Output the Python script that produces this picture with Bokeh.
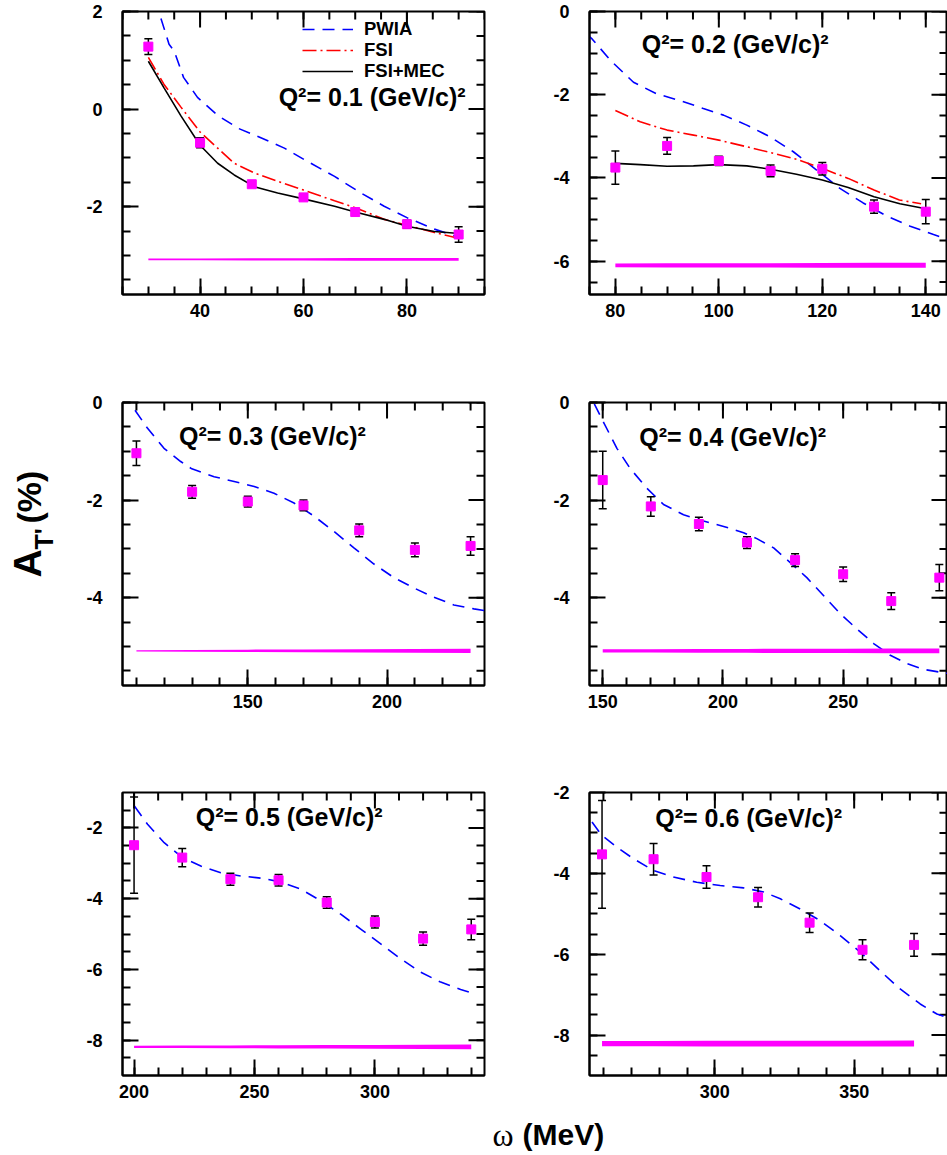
import math
from bokeh.plotting import figure
from bokeh.models import (Range1d, FixedTicker, ColumnDataSource, Whisker,
                          TeeHead, Legend, LegendItem, Label)
from bokeh.layouts import row, column
from bokeh.embed import file_html
from bokeh.resources import INLINE
from bokeh.core.properties import value

FONT = "Liberation Sans"
MAG = "#ff00ff"

# ---------------- data ----------------
# Q^2 = 0.1
p1_w = [30, 40, 50, 60, 70, 80, 90]
p1_a = [1.28, -0.69, -1.54, -1.81, -2.11, -2.36, -2.57]
p1_err = [0.16, 0.10, 0.06, 0.06, 0.07, 0.08, 0.16]
p1_band_base = -3.08
p1_band_half = [0.02, 0.02, 0.025, 0.025, 0.03, 0.03, 0.03]
p1_pwia_w = [31.3, 32.4, 34.0, 35.0, 36.8, 39.5, 43.4, 47.5, 50.5, 56.3, 60.2, 66.0, 71.1, 75.6, 80.1, 85.3, 90.1]
p1_pwia_a = [2.25, 1.87, 1.33, 1.19, 0.65, 0.24, -0.13, -0.40, -0.53, -0.80, -1.04, -1.38, -1.72, -1.99, -2.23, -2.46, -2.63]
p1_fsi_w = [30, 33, 36.3, 40, 43.4, 46.6, 50.5, 55, 60, 66, 70, 75.6, 80, 85.3, 90.1]
p1_fsi_a = [1.06, 0.51, 0.04, -0.47, -0.80, -1.11, -1.31, -1.48, -1.66, -1.88, -2.02, -2.26, -2.38, -2.53, -2.65]
p1_mec_w = [30, 33, 36.3, 40, 43.4, 46.6, 50.5, 55, 60, 66, 70, 75.6, 80, 85.3, 90.1]
p1_mec_a = [0.98, 0.44, -0.14, -0.74, -1.11, -1.35, -1.59, -1.72, -1.84, -1.99, -2.11, -2.26, -2.40, -2.51, -2.55]

# Q^2 = 0.2
p2_w = [80, 90, 100, 110, 120, 130, 140]
p2_a = [-3.75, -3.23, -3.59, -3.83, -3.78, -4.69, -4.81]
p2_err = [0.40, 0.20, 0.11, 0.14, 0.15, 0.16, 0.29]
p2_band_base = -6.10
p2_band_half = [0.045, 0.05, 0.05, 0.05, 0.055, 0.06, 0.06]
p2_pwia_w = [74.5, 75.5, 79.1, 83.5, 88.0, 92.5, 97.0, 100.9, 105.4, 109.9, 114.4, 118.9, 123.4, 127.9, 132.5, 137.0, 141.5, 145.0]
p2_pwia_a = [-0.55, -0.66, -1.18, -1.70, -1.98, -2.14, -2.33, -2.49, -2.73, -3.01, -3.37, -3.81, -4.25, -4.60, -4.92, -5.16, -5.36, -5.50]
p2_fsi_w = [80, 84.8, 90, 95.1, 100, 105.4, 110, 115, 120, 125, 130, 134.9, 139.1]
p2_fsi_a = [-2.38, -2.65, -2.85, -2.97, -3.09, -3.25, -3.39, -3.55, -3.77, -4.01, -4.29, -4.53, -4.62]
p2_mec_w = [80, 84.8, 90, 95.1, 100, 105.4, 110, 115, 120, 125, 130, 135, 140]
p2_mec_a = [-3.65, -3.68, -3.72, -3.71, -3.68, -3.71, -3.79, -3.91, -4.05, -4.23, -4.45, -4.62, -4.74]

# Q^2 = 0.3
p3_w = [110, 130, 150, 170, 190, 210, 230]
p3_a = [-1.04, -1.83, -2.03, -2.11, -2.62, -3.02, -2.94]
p3_err = [0.25, 0.13, 0.11, 0.11, 0.13, 0.14, 0.19]
p3_band_base = -5.09
p3_band_half = [0.013, 0.02, 0.025, 0.03, 0.035, 0.04, 0.045]
p3_pwia_w = [109.5, 114, 119.9, 125.9, 129.9, 137.9, 145.1, 152.3, 159.4, 166.6, 173.8, 180.9, 188.1, 195.3, 202.5, 209.6, 216.8, 224, 231.2, 235.5]
p3_pwia_a = [-0.16, -0.53, -0.94, -1.21, -1.36, -1.52, -1.62, -1.72, -1.86, -2.06, -2.33, -2.64, -2.98, -3.31, -3.59, -3.80, -3.99, -4.15, -4.23, -4.27]

# Q^2 = 0.4
p4_w = [150, 170, 190, 210, 230, 250, 270, 290]
p4_a = [-1.59, -2.13, -2.49, -2.87, -3.23, -3.52, -4.07, -3.59]
p4_err = [0.59, 0.20, 0.14, 0.12, 0.13, 0.15, 0.17, 0.27]
p4_band_base = -5.09
p4_band_half = [0.035, 0.035, 0.04, 0.04, 0.045, 0.045, 0.05, 0.05]
p4_pwia_w = [146.5, 150.3, 155.9, 161.4, 168.4, 175.3, 183.6, 191.9, 200.3, 208.6, 214.1, 221.1, 228, 234.9, 241.9, 248.8, 255.7, 262.7, 269.6, 276.5, 283.4, 293.3, 296]
p4_pwia_a = [-0.03, -0.40, -0.94, -1.35, -1.76, -2.09, -2.30, -2.43, -2.54, -2.67, -2.79, -2.98, -3.28, -3.59, -3.96, -4.33, -4.64, -4.94, -5.18, -5.35, -5.47, -5.55, -5.57]

# Q^2 = 0.5
p5_w = [200, 220, 240, 260, 280, 300, 320, 340]
p5_a = [-2.49, -2.84, -3.45, -3.48, -4.11, -4.66, -5.13, -4.87]
p5_err = [1.36, 0.26, 0.17, 0.16, 0.16, 0.17, 0.19, 0.29]
p5_band_base = -8.19
p5_band_half = [0.03, 0.035, 0.04, 0.045, 0.05, 0.055, 0.06, 0.065]
p5_pwia_w = [200.2, 205.6, 212.5, 220.1, 227.7, 236, 244.3, 252.6, 260.2, 269.2, 277.5, 285.8, 294.1, 302.4, 310.7, 319, 327.3, 335.6, 340.4]
p5_pwia_a = [-1.39, -1.90, -2.42, -2.84, -3.08, -3.27, -3.36, -3.42, -3.52, -3.73, -4.06, -4.44, -4.86, -5.28, -5.70, -6.08, -6.36, -6.57, -6.67]

# Q^2 = 0.6
p6_w = [259.5, 278, 297, 315.5, 334, 353, 371.5]
p6_a = [-3.53, -3.65, -4.09, -4.59, -5.22, -5.89, -5.77]
p6_err = [1.33, 0.39, 0.28, 0.24, 0.24, 0.25, 0.28]
p6_band_base = -8.21
p6_band_half = [0.065, 0.065, 0.07, 0.07, 0.07, 0.07, 0.075]
p6_pwia_w = [255.9, 259.4, 264.8, 270.8, 278, 285.1, 293.5, 301.9, 310.3, 317.5, 323.5, 330.6, 337.8, 345, 352.2, 359.3, 366.5, 373.7, 379.7, 384]
p6_pwia_a = [-2.73, -3.06, -3.35, -3.64, -3.93, -4.09, -4.22, -4.30, -4.36, -4.46, -4.63, -4.88, -5.17, -5.54, -5.95, -6.41, -6.86, -7.23, -7.48, -7.58]

# tick values / labels
p1_xticks, p1_xlabels = [40, 60, 80], ["40", "60", "80"]
p1_yticks, p1_ylabels = [-2, 0, 2], ["-2", "0", "2"]
p2_xticks, p2_xlabels = [80, 100, 120, 140], ["80", "100", "120", "140"]
p2_yticks, p2_ylabels = [-6, -4, -2, 0], ["-6", "-4", "-2", "0"]
p3_xticks, p3_xlabels = [150, 200], ["150", "200"]
p3_yticks, p3_ylabels = [-4, -2, 0], ["-4", "-2", "0"]
p4_xticks, p4_xlabels = [150, 200, 250], ["150", "200", "250"]
p4_yticks, p4_ylabels = [-4, -2, 0], ["-4", "-2", "0"]
p5_xticks, p5_xlabels = [200, 250, 300], ["200", "250", "300"]
p5_yticks, p5_ylabels = [-8, -6, -4, -2], ["-8", "-6", "-4", "-2"]
p6_xticks, p6_xlabels = [300, 350], ["300", "350"]
p6_yticks, p6_ylabels = [-8, -6, -4, -2], ["-8", "-6", "-4", "-2"]

q2_titles = ["Q²= 0.1 (GeV/c)²", "Q²= 0.2 (GeV/c)²", "Q²= 0.3 (GeV/c)²",
             "Q²= 0.4 (GeV/c)²", "Q²= 0.5 (GeV/c)²", "Q²= 0.6 (GeV/c)²"]
legend_labels = ["PWIA", "FSI", "FSI+MEC"]
y_title = ["A", "T'", "(%)"]
x_title = ["ω", "(MeV)"]


def steps(a, b, s):
    n = int(round((b - a) / s))
    return [round(a + i * s, 6) for i in range(n + 1)]


def style_axis(ax, major, minor, labels, standoff):
    ax.ticker = FixedTicker(ticks=major, minor_ticks=minor)
    ax.axis_line_width = 2
    ax.axis_line_color = "black"
    ax.major_tick_in = 16
    ax.major_tick_out = 0
    ax.minor_tick_in = 8
    ax.minor_tick_out = 0
    ax.major_tick_line_width = 2
    ax.minor_tick_line_width = 2
    ax.major_label_text_font = FONT
    ax.major_label_text_font_style = "bold"
    ax.major_label_text_color = "black"
    ax.major_label_text_font_size = "18px"
    ax.major_label_standoff = standoff
    ax.major_label_overrides = {float(t): l for t, l in zip(major, labels)}


def make_panel(xr, yr, xt, xl, xminor, yt, yl, yminor, width, height, bl, br, bt, bb):
    p = figure(width=width, height=height, x_range=Range1d(*xr), y_range=Range1d(*yr),
               output_backend="svg", toolbar_location=None,
               min_border_left=bl, min_border_right=br, min_border_top=bt, min_border_bottom=bb)
    p.grid.visible = False
    p.outline_line_color = "black"
    p.outline_line_width = 2
    style_axis(p.below[0], xt, xminor, xl, 9)
    style_axis(p.left[0], yt, yminor, yl, 20)
    # inward ticks on the top and right frame edges (mirror of the bottom/left axes);
    # dash markers centred on the edge are clipped by the frame, leaving the inner half
    tk = dict(marker="dash", line_color="black", line_width=2)
    p.scatter(x=xt, y=[yr[1]] * len(xt), size=32, angle=math.pi / 2, **tk)
    p.scatter(x=xminor, y=[yr[1]] * len(xminor), size=16, angle=math.pi / 2, **tk)
    p.scatter(x=[xr[1]] * len(yt), y=yt, size=32, angle=0, **tk)
    p.scatter(x=[xr[1]] * len(yminor), y=yminor, size=16, angle=0, **tk)
    return p


def add_data(p, w, a, err, band_base, band_half):
    lo = [band_base - h for h in band_half]
    hi = [band_base + h for h in band_half]
    p.varea(x=w, y1=lo, y2=hi, fill_color=MAG)
    src = ColumnDataSource(dict(x=w, lo=[v - e for v, e in zip(a, err)], hi=[v + e for v, e in zip(a, err)]))
    wh = Whisker(source=src, base="x", lower="lo", upper="hi", line_color="black", line_width=1.5,
                 upper_head=TeeHead(size=8, line_color="black", line_width=1.5),
                 lower_head=TeeHead(size=8, line_color="black", line_width=1.5))
    wh.level = "glyph"
    p.add_layout(wh)
    p.scatter(w, a, marker="square", size=9, fill_color=MAG, line_color=MAG, level="overlay")


def add_title(p, x, y, text):
    p.add_layout(Label(x=x, y=y, text=text, text_font=FONT, text_font_style="bold",
                       text_font_size="25px", text_baseline="middle", text_align="left",
                       text_color="black"))


PWIA_STYLE = dict(line_color="#0000ff", line_width=1.6, line_dash="12 8")
FSI_STYLE = dict(line_color="#ff0000", line_width=1.6, line_dash="14 4 2 4")
MEC_STYLE = dict(line_color="black", line_width=1.6)

# layout geometry (pixels)
LW, RW = 434, 453
H1, H2, H3, HX = 350, 385, 375, 45

# ---- panel 1
f1 = make_panel((25, 95), (-3.8, 2.0), p1_xticks, p1_xlabels, steps(25, 95, 5),
                p1_yticks, p1_ylabels, steps(-3.5, 2.0, 0.5), LW, H1, 62, 10, 11, 56)
r_pw = f1.line(p1_pwia_w, p1_pwia_a, **PWIA_STYLE)
r_fs = f1.line(p1_fsi_w, p1_fsi_a, **FSI_STYLE)
r_me = f1.line(p1_mec_w, p1_mec_a, **MEC_STYLE)
add_data(f1, p1_w, p1_a, p1_err, p1_band_base, p1_band_half)
add_title(f1, 55.2, 0.24, q2_titles[0])
# legend: one entry per Legend so that the rows can sit close together
for lab, rend, vy in zip(legend_labels, [r_pw, r_fs, r_me], [254, 233, 212]):
    f1.add_layout(Legend(items=[LegendItem(label=lab, renderers=[rend])],
                         location=(180, vy), orientation="vertical", padding=0, margin=0,
                         glyph_width=51, glyph_height=16, label_standoff=11, label_height=16,
                         label_text_font=FONT, label_text_font_style="bold", label_text_font_size="18.5px",
                         label_text_color="black",
                         background_fill_alpha=0, border_line_alpha=0))

# ---- panel 2
f2 = make_panel((75, 144.2), (-6.8, 0), p2_xticks, p2_xlabels, steps(75, 145, 5),
                p2_yticks, p2_ylabels, steps(-6.5, 0, 0.5), RW, H1, 95, 0, 11, 56)
f2.line(p2_pwia_w, p2_pwia_a, **PWIA_STYLE)
f2.line(p2_fsi_w, p2_fsi_a, **FSI_STYLE)
f2.line(p2_mec_w, p2_mec_a, **MEC_STYLE)
add_data(f2, p2_w, p2_a, p2_err, p2_band_base, p2_band_half)
add_title(f2, 85.1, -0.78, q2_titles[1])

# ---- panel 3
f3 = make_panel((105, 235), (-5.8, 0), p3_xticks, p3_xlabels, steps(110, 230, 10),
                p3_yticks, p3_ylabels, steps(-5.5, 0, 0.5), LW, H2, 62, 10, 52, 50)
f3.line(p3_pwia_w, p3_pwia_a, **PWIA_STYLE)
add_data(f3, p3_w, p3_a, p3_err, p3_band_base, p3_band_half)
add_title(f3, 125.3, -0.68, q2_titles[2])

# ---- panel 4
f4 = make_panel((144.5, 293.4), (-5.8, 0), p4_xticks, p4_xlabels, steps(150, 290, 10),
                p4_yticks, p4_ylabels, steps(-5.5, 0, 0.5), RW, H2, 95, 0, 52, 50)
f4.line(p4_pwia_w, p4_pwia_a, **PWIA_STYLE)
add_data(f4, p4_w, p4_a, p4_err, p4_band_base, p4_band_half)
add_title(f4, 165.2, -0.70, q2_titles[3])

# ---- panel 5
f5 = make_panel((195.2, 345.5), (-9, -1), p5_xticks, p5_xlabels, steps(200, 340, 10),
                p5_yticks, p5_ylabels, steps(-8.5, -1.5, 0.5), LW, H3, 62, 10, 57, 35)
f5.line(p5_pwia_w, p5_pwia_a, **PWIA_STYLE)
add_data(f5, p5_w, p5_a, p5_err, p5_band_base, p5_band_half)
add_title(f5, 225.6, -1.68, q2_titles[4])

# ---- panel 6
f6 = make_panel((255, 383.5), (-9, -2), p6_xticks, p6_xlabels, steps(260, 380, 10),
                p6_yticks, p6_ylabels, steps(-8.5, -2.5, 0.5), RW, H3, 95, 0, 57, 35)
f6.line(p6_pwia_w, p6_pwia_a, **PWIA_STYLE)
add_data(f6, p6_w, p6_a, p6_err, p6_band_base, p6_band_half)
add_title(f6, 278.6, -2.64, q2_titles[5])

# ---- y-axis title column (pixel-like coordinates: x right, y down)
HT = H1 + H2 + H3
fy = figure(width=60, height=HT, x_range=Range1d(0, 60), y_range=Range1d(HT, 0),
            output_backend="svg", toolbar_location=None, x_axis_location=None, y_axis_location=None,
            min_border=0)
fy.grid.visible = False
fy.outline_line_color = None
ytxt = dict(angle=math.pi / 2, text_font=value(FONT), text_font_style="bold",
            text_baseline="middle", text_align="left", text_color="black")
fy.text(x=[27], y=[577], text=[y_title[0]], text_font_size="39px", **ytxt)
fy.text(x=[43], y=[549], text=[y_title[1]], text_font_size="25px", **ytxt)
fy.text(x=[28], y=[523], text=[y_title[2]], text_font_size="34px", **ytxt)

# ---- x-axis title row
fx = figure(width=947, height=HX, x_range=Range1d(0, 947), y_range=Range1d(HX, 0),
            output_backend="svg", toolbar_location=None, x_axis_location=None, y_axis_location=None,
            min_border=0)
fx.grid.visible = False
fx.outline_line_color = None
fx.text(x=[492], y=[24], text=[x_title[0]], text_font=value("Liberation Serif"), text_font_size="32px",
        text_baseline="middle", text_align="left", text_color="black")
fx.text(x=[522], y=[24], text=[x_title[1]], text_font=value(FONT), text_font_style="bold",
        text_font_size="30px", text_baseline="middle", text_align="left", text_color="black")

grid = column(row(f1, f2), row(f3, f4), row(f5, f6))
layout = column(row(fy, grid), fx)

open("out.html", "w").write(file_html(layout, INLINE))
